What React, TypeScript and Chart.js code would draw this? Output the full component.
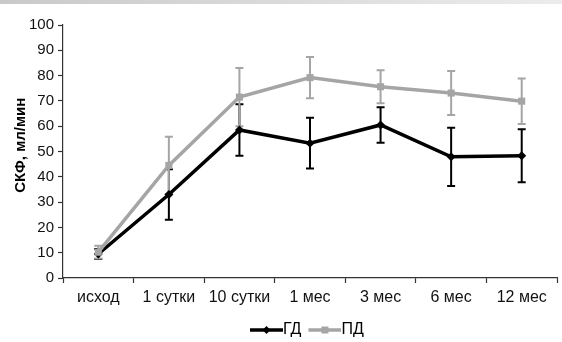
import React, { useEffect, useRef } from "react";
import { Chart, registerables } from "chart.js";

Chart.register(...registerables);

const categories = ["исход", "1 сутки", "10 сутки", "1 мес", "3 мес", "6 мес", "12 мес"];
const gdValues = [9.5, 33, 58.5, 53.3, 60.5, 47.9, 48.3];
const gdErrors = [2, 10, 10.2, 10, 7, 11.5, 10.5];
const pdValues = [10.2, 44.5, 71.5, 79.2, 75.6, 73.1, 69.9];
const pdErrors = [2.5, 11.3, 11.5, 8.2, 6.5, 8.7, 9];
const yTicks = [0, 10, 20, 30, 40, 50, 60, 70, 80, 90, 100];

const BLACK = "#000000";
const GRAY = "#a5a5a5";
const FONT = "'Liberation Sans', Arial, sans-serif";

function makeLegendImage(color: string, kind: "diamond" | "square") {
  // 45px wide image: transparent first 12px, then a 33px line with marker
  const c = document.createElement("canvas");
  c.width = 45;
  c.height = 12;
  const ctx = c.getContext("2d")!;
  ctx.strokeStyle = color;
  ctx.fillStyle = color;
  ctx.lineWidth = 3.5;
  ctx.beginPath();
  ctx.moveTo(12, 6);
  ctx.lineTo(45, 6);
  ctx.stroke();
  ctx.beginPath();
  const cx = 12 + 16.5;
  if (kind === "diamond") {
    ctx.moveTo(cx, 2);
    ctx.lineTo(cx + 4, 6);
    ctx.lineTo(cx, 10);
    ctx.lineTo(cx - 4, 6);
    ctx.closePath();
  } else {
    ctx.rect(cx - 3.5, 2.5, 7, 7);
  }
  ctx.fill();
  return c;
}

const errorBarPlugin = {
  id: "errorBars",
  beforeDatasetsDraw(chart: any) {
    const { ctx } = chart;
    const yScale = chart.scales.y;
    const sets = [
      { idx: 0, vals: gdValues, errs: gdErrors, color: BLACK },
      { idx: 1, vals: pdValues, errs: pdErrors, color: GRAY },
    ];
    ctx.save();
    for (const s of sets) {
      const meta = chart.getDatasetMeta(s.idx);
      ctx.strokeStyle = s.color;
      ctx.lineWidth = 2;
      meta.data.forEach((pt: any, i: number) => {
        const x = pt.x;
        const yTop = yScale.getPixelForValue(s.vals[i] + s.errs[i]);
        const yBot = yScale.getPixelForValue(s.vals[i] - s.errs[i]);
        ctx.beginPath();
        ctx.moveTo(x, yTop);
        ctx.lineTo(x, yBot);
        ctx.moveTo(x - 4, yTop);
        ctx.lineTo(x + 4, yTop);
        ctx.moveTo(x - 4, yBot);
        ctx.lineTo(x + 4, yBot);
        ctx.stroke();
      });
    }
    ctx.restore();
  },
};

const legendPlacePlugin = {
  id: "legendPlace",
  afterLayout(chart: any) {
    const lg = chart.legend;
    if (!lg) return;
    const w = lg.right - lg.left;
    const h = lg.bottom - lg.top;
    lg.left = 243;
    lg.right = lg.left + w;
    lg.top = 330 - 11;
    lg.bottom = lg.top + h;
  },
};

export default function App() {
  const ref = useRef<HTMLCanvasElement>(null);
  useEffect(() => {
    const gdImg = makeLegendImage(BLACK, "diamond");
    const pdImg = makeLegendImage(GRAY, "square");
    const chart = new Chart(ref.current!, {
      type: "line",
      data: {
        labels: categories,
        datasets: [
          {
            label: "ГД",
            data: gdValues,
            borderColor: BLACK,
            backgroundColor: BLACK,
            borderWidth: 3.5,
            pointStyle: "rectRot",
            pointRadius: 4.5,
            pointBorderWidth: 0,
            tension: 0,
            order: 1,
          },
          {
            label: "ПД",
            data: pdValues,
            borderColor: GRAY,
            backgroundColor: GRAY,
            borderWidth: 3.5,
            pointStyle: "rect",
            pointRadius: 5,
            pointBorderWidth: 0,
            tension: 0,
            order: 0,
          },
        ],
      },
      options: {
        responsive: false,
        animation: false,
        layout: { padding: { top: 25, right: 1, left: 0, bottom: 5 } },
        plugins: {
          tooltip: { enabled: false },
          legend: {
            position: "bottom",
            align: "start",
            labels: {
              usePointStyle: true,
              pointStyleWidth: 29,
              padding: 3,
              color: "#000",
              font: { family: FONT, size: 16 },
              generateLabels: () => [
                { text: "ГД", pointStyle: gdImg as any, fillStyle: BLACK, strokeStyle: BLACK, lineWidth: 0, hidden: false, datasetIndex: 0 },
                { text: "ПД", pointStyle: pdImg as any, fillStyle: GRAY, strokeStyle: GRAY, lineWidth: 0, hidden: false, datasetIndex: 1 },
              ],
            },
          },
        },
        scales: {
          x: {
            type: "category",
            offset: true,
            grid: {
              offset: true,
              drawOnChartArea: false,
              tickLength: 5,
              color: "#333",
              tickWidth: 1.2,
            },
            border: { color: "#333", width: 1.2 },
            ticks: {
              color: "#111",
              padding: 5,
              maxRotation: 0,
              autoSkip: false,
              font: { family: FONT, size: 16 },
            },
            afterFit: (s: any) => {
              s.height = 30;
            },
          },
          y: {
            min: 0,
            max: 100,
            afterBuildTicks: (s: any) => {
              s.ticks = yTicks.map((v) => ({ value: v }));
            },
            grid: {
              drawOnChartArea: false,
              tickLength: 5,
              color: "#333",
              tickWidth: 1.2,
            },
            border: { color: "#333", width: 1.2 },
            ticks: {
              color: "#111",
              padding: 4,
              font: { family: FONT, size: 15 },
            },
            title: {
              display: true,
              text: "   СКФ, мл/мин",
              color: "#000",
              font: { family: FONT, size: 15, weight: "bold" },
              padding: { top: 12, bottom: 0 },
            },
            afterFit: (s: any) => {
              s.width = 63;
            },
          },
        },
      },
      plugins: [errorBarPlugin, legendPlacePlugin],
    });
    return () => chart.destroy();
  }, []);

  return (
    <div style={{ position: "fixed", left: 0, top: 0, width: 562, height: 342, background: "#fff" }}>
      <canvas ref={ref} width={562} height={342} style={{ position: "absolute", left: 0, top: 0 }} />
      <div
        style={{
          position: "absolute",
          left: 0,
          top: 0,
          width: 562,
          height: 4,
          background: "linear-gradient(to right, #c9c9c9, #ececec)",
        }}
      />
    </div>
  );
}
